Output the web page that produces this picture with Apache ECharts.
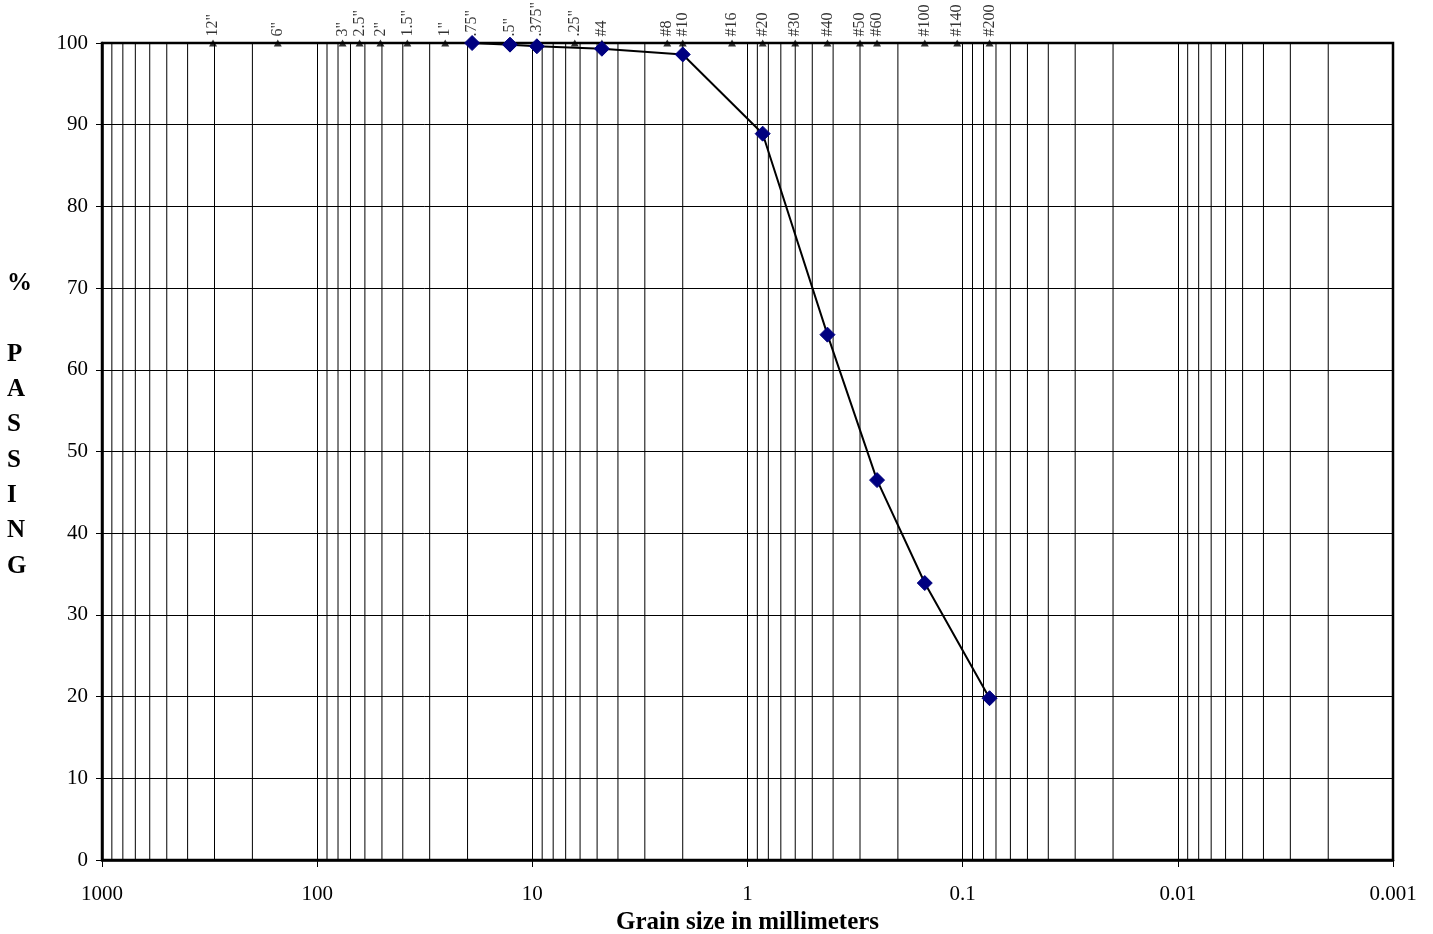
<!DOCTYPE html>
<html>
<head>
<meta charset="utf-8">
<script src="https://cdn.jsdelivr.net/npm/echarts@6/dist/echarts.min.js"></script>
<style>html,body{margin:0;padding:0;background:#fff;}#c{width:1433px;height:934px;}</style>
</head>
<body>
<div id="c"></div>
<script>
// Gradation test data (grain size in mm, % passing)
const gradSizes = [19.05, 12.7, 9.525, 4.75, 2.0, 0.85, 0.425, 0.25, 0.15, 0.075];
const gradPassing = [100, 99.8, 99.6, 99.3, 98.6, 88.9, 64.3, 46.5, 33.9, 19.8];

// Standard sieve openings (mm) and names, drawn along the 100% line
const sieveNames = ['12"', '6"', '3"', '2.5"', '2"', '1.5"', '1"', '.75"', '.5"', '.375"', '.25"', '#4', '#8', '#10', '#16', '#20', '#30', '#40', '#50', '#60', '#100', '#140', '#200'];
const sieveSizes = [304.8, 152.4, 76.2, 63.5, 50.8, 38.1, 25.4, 19.05, 12.7, 9.525, 6.35, 4.75, 2.36, 2.0, 1.18, 0.85, 0.6, 0.425, 0.3, 0.25, 0.15, 0.106, 0.075];
const sieveLevel = 100;

// Axis tick labels
const xTickValues = [1000, 100, 10, 1, 0.1, 0.01, 0.001];
const xTickLabels = ['1000', '100', '10', '1', '0.1', '0.01', '0.001'];
const minorMultipliers = [2, 3, 4, 5, 6, 7, 8, 9];
const decadeStarts = [0.001, 0.01, 0.1, 1, 10, 100];
const yMin = 0, yMax = 100, yStep = 10;

const FONT = '"Liberation Serif", "Times New Roman", serif';

// minor vertical grid lines as broken line segments through the axes
const minorGrid = [];
decadeStarts.forEach(d => minorMultipliers.forEach(m => {
  const v = Number((d * m).toPrecision(6));
  minorGrid.push([v, yMin], [v, yMax], ['-', '-']);
}));

function xLabel(v) {
  for (let i = 0; i < xTickValues.length; i++) {
    if (Math.abs(Math.log10(v) - Math.log10(xTickValues[i])) < 1e-6) return xTickLabels[i];
  }
  return '';
}

const chart = echarts.init(document.getElementById('c'), null, { renderer: 'canvas' });
chart.setOption({
  animation: false,
  backgroundColor: '#ffffff',
  grid: { left: 102, right: 40, top: 43, bottom: 74, containLabel: false, outerBoundsMode: 'none', show: true, borderColor: '#000', borderWidth: 2.5, backgroundColor: 'transparent' },
  xAxis: {
    type: 'log', logBase: 10, min: 0.001, max: 1000, inverse: true,
    name: 'Grain size in millimeters', nameLocation: 'middle', nameGap: 50,
    nameTextStyle: { fontFamily: FONT, fontWeight: 'bold', fontSize: 25, color: '#000' },
    axisLine: { show: true, onZero: false, lineStyle: { color: '#000', width: 2.5 } },
    axisTick: { show: true, inside: false, length: 7, lineStyle: { color: '#000', width: 1 } },
    axisLabel: { margin: 24, fontFamily: FONT, fontSize: 21, color: '#000', formatter: xLabel, showMinLabel: true, showMaxLabel: true },
    splitLine: { show: true, lineStyle: { color: '#000', width: 1 } },
    minorTick: { show: false }, minorSplitLine: { show: false }
  },
  yAxis: {
    type: 'value', min: yMin, max: yMax, interval: yStep,
    axisLine: { show: true, lineStyle: { color: '#000', width: 2.5 } },
    axisTick: { show: true, inside: false, length: 6, lineStyle: { color: '#000', width: 1 } },
    axisLabel: { margin: 14, fontFamily: FONT, fontSize: 21, color: '#000' },
    splitLine: { show: true, lineStyle: { color: '#000', width: 1 } }
  },
  graphic: [{
    type: 'text', left: 7, top: 266, z: 10,
    style: { text: '%\n\nP\nA\nS\nS\nI\nN\nG', fontFamily: FONT, fontWeight: 'bold', fontSize: 25, lineHeight: 35.3, fill: '#000', align: 'center' }
  }],
  series: [
    {
      name: 'minor', type: 'line', silent: true, z: 1, connectNulls: false,
      data: minorGrid, symbol: 'none', showSymbol: false,
      lineStyle: { color: '#000', width: 1 }
    },
    {
      name: 'sieves', type: 'scatter', z: 5, clip: false,
      symbol: 'triangle', symbolSize: [8, 7],
      itemStyle: { color: '#000' },
      data: sieveSizes.map((s, i) => ({ value: [s, sieveLevel], name: sieveNames[i] })),
      label: {
        show: true, position: 'top', distance: 3, rotate: 90, align: 'left', verticalAlign: 'middle',
        fontFamily: FONT, fontSize: 16, color: '#000', formatter: p => p.name
      }
    },
    {
      name: 'passing', type: 'line', z: 6, clip: false,
      data: gradSizes.map((s, i) => [s, gradPassing[i]]),
      symbol: 'diamond', symbolSize: 15, showSymbol: true,
      lineStyle: { color: '#000', width: 2 },
      itemStyle: { color: '#000080', borderColor: '#000080' }
    }
  ]
});
</script>
</body>
</html>
